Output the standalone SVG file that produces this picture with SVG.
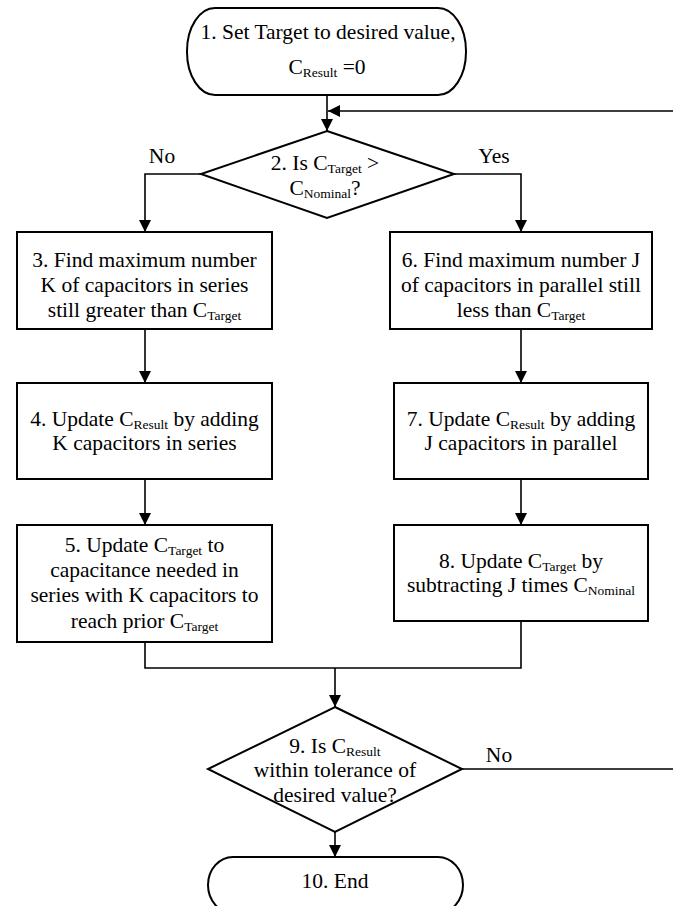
<svg xmlns="http://www.w3.org/2000/svg" width="673" height="906" viewBox="0 0 673 906">
<defs>
<marker id="arr" markerUnits="userSpaceOnUse" markerWidth="13" markerHeight="12" refX="12" refY="6" orient="auto">
<path d="M0,0 L12,6 L0,12 z" fill="#000"/>
</marker>
<style>
.shape{fill:#fff;stroke:#000;stroke-width:2}
.conn{fill:none;stroke:#000;stroke-width:1.6}
text{font-size:21.5px;fill:#000;text-anchor:middle}
.sub{font-size:13.5px}
</style>
</defs>
<rect width="673" height="906" fill="#fff"/>
<g font-family="Liberation Serif, Times New Roman, serif">
<g id="connectors">
<path class="conn" d="M327,95 V131" marker-end="url(#arr)"/>
<path class="conn" d="M462,769 H690 V111 H328" marker-end="url(#arr)"/>
<path class="conn" d="M201,174 H145 V232" marker-end="url(#arr)"/>
<path class="conn" d="M454,174 H521 V232" marker-end="url(#arr)"/>
<path class="conn" d="M145,329 V383" marker-end="url(#arr)"/>
<path class="conn" d="M145,479 V525" marker-end="url(#arr)"/>
<path class="conn" d="M521,329 V383" marker-end="url(#arr)"/>
<path class="conn" d="M521,479 V525" marker-end="url(#arr)"/>
<path class="conn" d="M145,642 V668 H521 V621"/>
<path class="conn" d="M335,668 V707" marker-end="url(#arr)"/>
<path class="conn" d="M335,832 V857" marker-end="url(#arr)"/>
<text x="162" y="163">No</text>
<text x="494" y="163">Yes</text>
<text x="499" y="762">No</text>
</g>
<g id="n1">
<rect class="shape" x="187" y="8" width="279" height="87" rx="28" ry="43"/>
<text x="328" y="39">1. Set Target to desired value,</text>
<text x="327" y="74">C<tspan class="sub" dy="3">Result</tspan><tspan dy="-3"> =0</tspan></text>
</g>
<g id="n2">
<polygon class="shape" points="327,131 454,174 327,218 201,174"/>
<text x="325" y="170">2. Is C<tspan class="sub" dy="3">Target</tspan><tspan dy="-3"> &gt;</tspan></text>
<text x="325" y="195">C<tspan class="sub" dy="3">Nominal</tspan><tspan dy="-3">?</tspan></text>
</g>
<g id="n3">
<rect class="shape" x="17" y="232" width="255" height="97"/>
<text x="144.5" y="267">3. Find maximum number</text>
<text x="144.5" y="292">K of capacitors in series</text>
<text x="144.5" y="317">still greater than C<tspan class="sub" dy="3">Target</tspan></text>
</g>
<g id="n4">
<rect class="shape" x="17" y="383" width="255" height="96"/>
<text x="144.5" y="426">4. Update C<tspan class="sub" dy="3">Result</tspan><tspan dy="-3"> by adding</tspan></text>
<text x="144.5" y="450">K capacitors in series</text>
</g>
<g id="n5">
<rect class="shape" x="17" y="525" width="255" height="117"/>
<text x="144.5" y="552">5. Update C<tspan class="sub" dy="3">Target</tspan><tspan dy="-3"> to</tspan></text>
<text x="144.5" y="577">capacitance needed in</text>
<text x="144.5" y="602">series with K capacitors to</text>
<text x="144.5" y="628">reach prior C<tspan class="sub" dy="3">Target</tspan></text>
</g>
<g id="n6">
<rect class="shape" x="390" y="232" width="262" height="97"/>
<text x="521" y="267">6. Find maximum number J</text>
<text x="521" y="292">of capacitors in parallel still</text>
<text x="521" y="317">less than C<tspan class="sub" dy="3">Target</tspan></text>
</g>
<g id="n7">
<rect class="shape" x="394" y="383" width="254" height="96"/>
<text x="521" y="426">7. Update C<tspan class="sub" dy="3">Result</tspan><tspan dy="-3"> by adding</tspan></text>
<text x="521" y="450">J capacitors in parallel</text>
</g>
<g id="n8">
<rect class="shape" x="394" y="525" width="254" height="96"/>
<text x="521" y="568">8. Update C<tspan class="sub" dy="3">Target</tspan><tspan dy="-3"> by</tspan></text>
<text x="521" y="592">subtracting J times C<tspan class="sub" dy="3">Nominal</tspan></text>
</g>
<g id="n9">
<polygon class="shape" points="335,707 462,769 335,832 208,769"/>
<text x="335" y="753">9. Is C<tspan class="sub" dy="3">Result</tspan></text>
<text x="335" y="777">within tolerance of</text>
<text x="335" y="802">desired value?</text>
</g>
<g id="n10">
<rect class="shape" x="208" y="857" width="255" height="56" rx="25" ry="28"/>
<text x="335" y="888">10. End</text>
</g>
</g>
</svg>
